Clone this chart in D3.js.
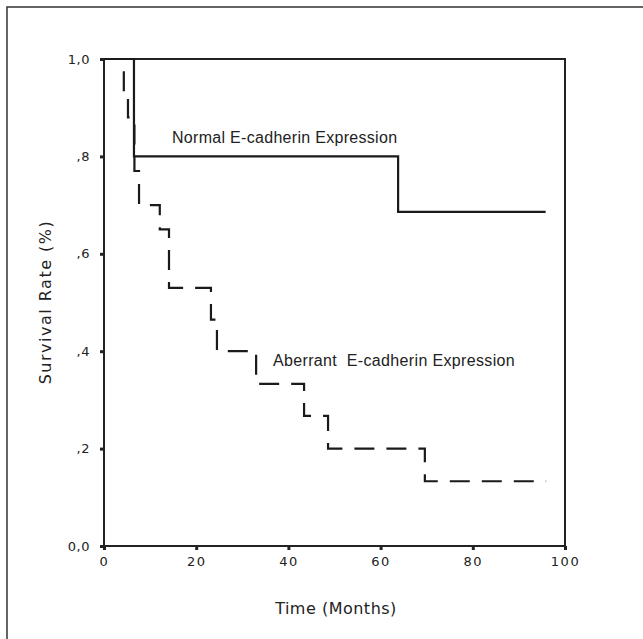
<!DOCTYPE html>
<html>
<head>
<meta charset="utf-8">
<script src="https://cdn.jsdelivr.net/npm/d3@7"></script>
<style>
  body { margin: 0; background: #fff; }
  svg { display: block; }
  .tick text { font-family: "DejaVu Sans", sans-serif; fill: #222; }
</style>
</head>
<body>
<svg id="canvas" width="643" height="639"></svg>
<script>
// Kaplan-Meier steps (months, survival fraction)
const normalTimes = [0, 6.5, 63.8, 95.8];
const normalSurv = [1.0, 0.8, 0.686, 0.686];

const aberrantTimes = [0, 4.3, 5.2, 6.6, 7.6, 12.1, 14.1, 23.2, 24.5, 33.0, 43.4, 48.6, 69.6, 95.9];
const aberrantSurv = [1.0, 0.93, 0.88, 0.77, 0.70, 0.65, 0.53, 0.465, 0.40, 0.333, 0.267, 0.20, 0.133, 0.133];

const xTicks = [0, 20, 40, 60, 80, 100];
const yTicks = [0, 0.2, 0.4, 0.6, 0.8, 1.0];

const svg = d3.select('#canvas');

// outer frame (cut off on the right and bottom in the scan)
svg.append('rect')
  .attr('x', 7).attr('y', 7)
  .attr('width', 700).attr('height', 700)
  .attr('fill', 'none')
  .attr('stroke', '#333')
  .attr('stroke-width', 1.5);

const x = d3.scaleLinear().domain([0, 100]).range([104, 565]);
const y = d3.scaleLinear().domain([0, 1]).range([546, 59]);

const yFormat = (d) => {
  if (d === 0) return '0,0';
  if (d === 1) return '1,0';
  return ',' + Math.round(d * 10);
};

const yAxis = svg.append('g')
  .attr('transform', 'translate(104,0)')
  .call(d3.axisLeft(y).tickValues(yTicks).tickFormat(yFormat).tickSize(4).tickPadding(10));

yAxis.select('.domain').remove();
yAxis.selectAll('.tick line').attr('stroke', '#222').attr('stroke-width', 3);
yAxis.selectAll('.tick text').attr('font-size', 13).style('letter-spacing', '0.5px');

const xAxis = svg.append('g')
  .attr('transform', 'translate(0,546)')
  .call(d3.axisBottom(x).tickValues(xTicks).tickFormat(d3.format('d')).tickSize(4).tickPadding(7));

xAxis.select('.domain').remove();
xAxis.selectAll('.tick line').attr('stroke', '#222').attr('stroke-width', 3);
xAxis.selectAll('.tick text').attr('font-size', 13).style('letter-spacing', '1.5px');

// plot box
svg.append('rect')
  .attr('x', x(0)).attr('y', y(1))
  .attr('width', x(100) - x(0))
  .attr('height', y(0) - y(1))
  .attr('fill', 'none')
  .attr('stroke', '#222')
  .attr('stroke-width', 2);

const line = d3.line()
  .x((d) => x(d[0]))
  .y((d) => y(d[1]))
  .curve(d3.curveStepAfter);

const normalData = normalTimes.map((t, i) => [t, normalSurv[i]]);
const aberrantData = aberrantTimes.map((t, i) => [t, aberrantSurv[i]]);

svg.append('path')
  .datum(aberrantData)
  .attr('d', line)
  .attr('fill', 'none')
  .attr('stroke', '#1a1a1a')
  .attr('stroke-width', 2.2)
  .attr('stroke-dasharray', '20,12');

svg.append('path')
  .datum(normalData)
  .attr('d', line)
  .attr('fill', 'none')
  .attr('stroke', '#1a1a1a')
  .attr('stroke-width', 2.2);

// curve labels
svg.append('text')
  .attr('x', 172).attr('y', 143)
  .attr('font-family', '"Liberation Sans", Arial, sans-serif')
  .attr('font-size', 16)
  .attr('fill', '#222')
  .style('letter-spacing', '0.3px')
  .text('Normal E-cadherin Expression');

svg.append('text')
  .attr('x', 273).attr('y', 366)
  .attr('font-family', '"Liberation Sans", Arial, sans-serif')
  .attr('font-size', 16)
  .attr('fill', '#222')
  .style('letter-spacing', '0.35px')
  .style('white-space', 'pre')
  .text('Aberrant  E-cadherin Expression');

// axis titles
svg.append('text')
  .attr('x', 336).attr('y', 614)
  .attr('text-anchor', 'middle')
  .attr('font-family', '"DejaVu Sans", sans-serif')
  .attr('font-size', 16)
  .attr('fill', '#222')
  .style('letter-spacing', '0.5px')
  .text('Time (Months)');

svg.append('text')
  .attr('transform', 'translate(51,302) rotate(-90)')
  .attr('text-anchor', 'middle')
  .attr('font-family', '"DejaVu Sans", sans-serif')
  .attr('font-size', 16)
  .attr('fill', '#222')
  .style('letter-spacing', '1.5px')
  .text('Survival Rate (%)');
</script>
</body>
</html>
